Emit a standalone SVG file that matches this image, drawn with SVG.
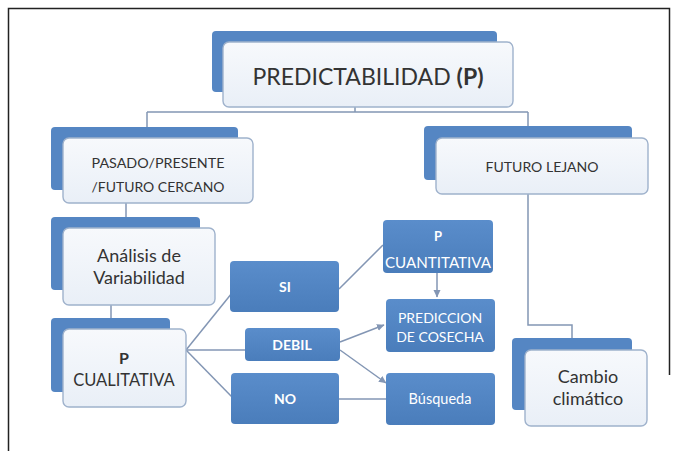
<svg xmlns="http://www.w3.org/2000/svg" width="679" height="451" viewBox="0 0 679 451">
<defs>
<linearGradient id="gw" x1="0" y1="0" x2="0" y2="1"><stop offset="0" stop-color="#f7f9fc"/><stop offset="1" stop-color="#e9eff7"/></linearGradient>
<linearGradient id="gb" x1="0" y1="0" x2="0" y2="1"><stop offset="0" stop-color="#5a8dcb"/><stop offset="1" stop-color="#4a7dbb"/></linearGradient>
<marker id="arr" markerWidth="8" markerHeight="8" refX="7" refY="4" orient="auto" markerUnits="userSpaceOnUse"><path d="M0,0.5 L7.5,4 L0,7.5 Z" fill="#8396b4"/></marker>
<style>
.back{fill:#5586c3}
.front{fill:url(#gw);stroke:#9fb2cc;stroke-width:1.4}
.blue{fill:url(#gb)}
.t{font-family:Lato,"Liberation Sans",sans-serif;fill:#333333;text-anchor:middle}
.w{fill:#ffffff;font-weight:bold}
.conn{stroke:#8396b4;stroke-width:1.5;fill:none}
.frame{stroke:#222;stroke-width:1.5;fill:none}
</style>
</defs>
<rect width="679" height="451" fill="#ffffff"/>
<path class="frame" d="M8.5,451 V8.5 H669.5 V375"/>
<g id="connectors">
<path class="conn" d="M355,107 V112 M147,112 H528 M147,112 V127 M528,112 V126"/>
<path class="conn" d="M126,203 V217"/>
<path class="conn" d="M111,305 V318"/>
<path class="conn" d="M528,194 V325 H572 V338"/>
<path class="conn" d="M186,350 L232,293"/>
<path class="conn" d="M186,350 H245"/>
<path class="conn" d="M186,350 L232,397"/>
<path class="conn" d="M339,289 L383,245"/>
<path class="conn" d="M437,273 V297" marker-end="url(#arr)"/>
<path class="conn" d="M340,342 L384,325" marker-end="url(#arr)"/>
<path class="conn" d="M340,350 L386,383" marker-end="url(#arr)"/>
<path class="conn" d="M339,399 H386"/>
</g>
<g id="predictabilidad">
<rect class="back" x="212" y="31" width="285" height="61" rx="4"/>
<rect class="front" x="223" y="42" width="290" height="65" rx="6"/>
<text class="t" x="368" y="85" font-size="23" textLength="231" lengthAdjust="spacingAndGlyphs">PREDICTABILIDAD <tspan font-weight="bold">(P)</tspan></text>
</g>
<g id="pasado">
<rect class="back" x="51" y="127" width="187" height="63" rx="4"/>
<rect class="front" x="63" y="138" width="190" height="65" rx="6"/>
<text class="t" x="158" y="168" font-size="14" textLength="133" lengthAdjust="spacingAndGlyphs">PASADO/PRESENTE</text>
<text class="t" x="158" y="192" font-size="14" textLength="133" lengthAdjust="spacingAndGlyphs">/FUTURO CERCANO</text>
</g>
<g id="futuro-lejano">
<rect class="back" x="424" y="126" width="208" height="54" rx="4"/>
<rect class="front" x="436" y="138" width="212" height="56" rx="6"/>
<text class="t" x="542" y="172" font-size="14" textLength="113" lengthAdjust="spacingAndGlyphs">FUTURO LEJANO</text>
</g>
<g id="analisis">
<rect class="back" x="51" y="217" width="149" height="73" rx="4"/>
<rect class="front" x="63" y="228" width="152" height="77" rx="6"/>
<text class="t" x="139" y="262" font-size="18">Análisis de</text>
<text class="t" x="139" y="284" font-size="18">Variabilidad</text>
</g>
<g id="p-cualitativa">
<rect class="back" x="51" y="318" width="119" height="74" rx="4"/>
<rect class="front" x="63" y="329" width="123" height="78" rx="6"/>
<text class="t" x="124" y="364" font-size="16" font-weight="bold">P</text>
<text class="t" x="124" y="386" font-size="16.5">CUALITATIVA</text>
</g>
<g id="cambio">
<rect class="back" x="512" y="338" width="120" height="72" rx="4"/>
<rect class="front" x="525" y="350" width="122" height="76" rx="6"/>
<text class="t" x="588" y="383" font-size="18">Cambio</text>
<text class="t" x="588" y="405" font-size="18">climático</text>
</g>
<g id="si">
<rect class="blue" x="230" y="261" width="109" height="51" rx="4"/>
<text class="t w" x="285" y="292" font-size="14">SI</text>
</g>
<g id="p-cuantitativa">
<rect class="blue" x="383" y="220" width="110" height="53" rx="4"/>
<text class="t w" x="438" y="241" font-size="13">P</text>
<text class="t" x="438" y="268" font-size="14.5" style="fill:#fff" textLength="106" lengthAdjust="spacingAndGlyphs">CUANTITATIVA</text>
</g>
<g id="prediccion">
<rect class="blue" x="386" y="299" width="109" height="53" rx="4"/>
<text class="t" x="440" y="323" font-size="14" style="fill:#fff">PREDICCION</text>
<text class="t" x="440" y="342" font-size="14" style="fill:#fff">DE COSECHA</text>
</g>
<g id="debil">
<rect class="blue" x="245" y="328" width="95" height="33" rx="4"/>
<text class="t w" x="292" y="350" font-size="14">DEBIL</text>
</g>
<g id="no">
<rect class="blue" x="231" y="373" width="108" height="51" rx="4"/>
<text class="t w" x="285" y="404" font-size="14">NO</text>
</g>
<g id="busqueda">
<rect class="blue" x="386" y="373" width="109" height="52" rx="4"/>
<text class="t" x="440" y="404" font-size="14.5" style="fill:#fff">Búsqueda</text>
</g>
</svg>
